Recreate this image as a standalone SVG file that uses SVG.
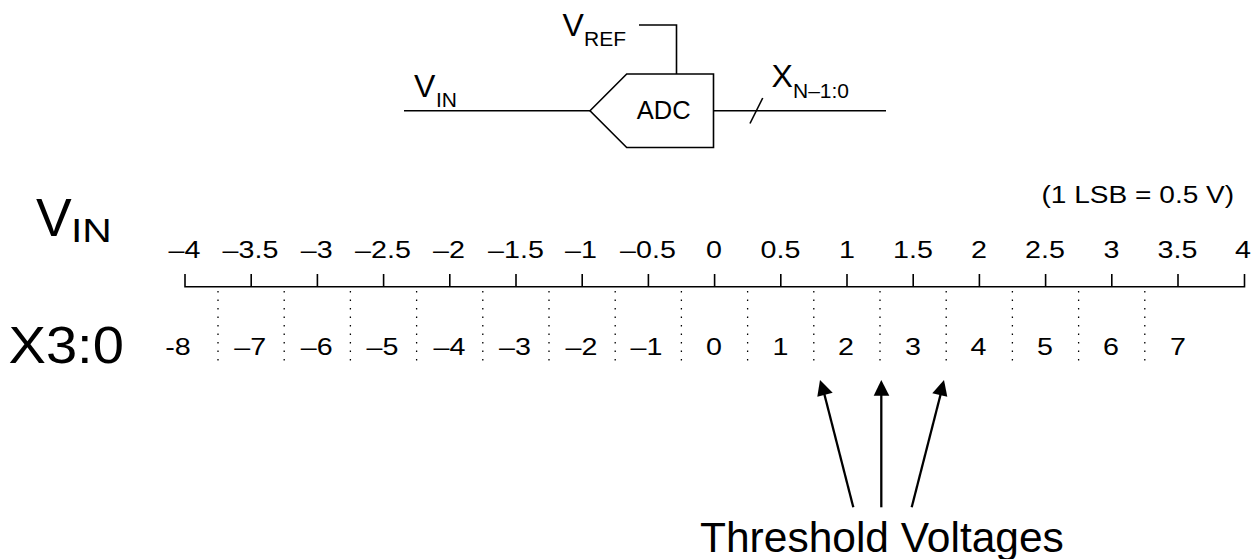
<svg xmlns="http://www.w3.org/2000/svg" width="1260" height="559" viewBox="0 0 1260 559">
<style>
text{font-family:"Liberation Sans",Arial,sans-serif;fill:#000}
.l{fill:none;stroke:#000;stroke-width:1.6}
.d{fill:none;stroke:#000;stroke-width:1.3;stroke-dasharray:1.5 7}
.a{fill:none;stroke:#000;stroke-width:2.3}
.h{fill:#000}
.t{font-size:23.5px;text-anchor:middle}
.s{font-size:32px}
.u{font-size:21px}
</style>
<rect width="1260" height="559" fill="#fff"/>
<g id="adc"><path class="l" d="M590 110.7L626.7 74H713.5V147.5H626.7Z"/><text x="663.7" y="119.3" font-size="25.5" text-anchor="middle">ADC</text></g>
<g id="connectors">
<path class="l" d="M404 110.7H590"/><path class="l" d="M713.5 110.7H886"/><path class="l" d="M750 123.5L762.7 98"/><path class="l" d="M639 25H676.5V74"/>
<path class="l" d="M185 274V286.7H1244.5V274"/>
<path class="l" d="M251.2 274V287M317.4 274V287M383.6 274V287M449.8 274V287M516 274V287M582.2 274V287M648.4 274V287M714.6 274V287M780.8 274V287M847 274V287M913.2 274V287M979.4 274V287M1045.6 274V287M1111.8 274V287M1178 274V287"/>
<path class="d" d="M218 291V361M284.2 291V361M350.4 291V361M416.6 291V361M482.8 291V361M549 291V361M615.2 291V361M681.4 291V361M747.6 291V361M813.8 291V361M880 291V361M946.2 291V361M1012.4 291V361M1078.6 291V361M1144.8 291V361"/>
<path class="a" d="M853.3 507.3L824.3 394"/><path class="h" d="M820 380L832.7 392.7L817.3 396.7Z"/>
<path class="a" d="M881.3 507.3V394"/><path class="h" d="M881.3 380L889.3 395.7H873.7Z"/>
<path class="a" d="M911.7 507.3L940.7 394"/><path class="h" d="M944 380L947.3 396.7L932.3 393.3Z"/>
</g>
<g id="labels">
<text class="s" x="562.5" y="35.5">V</text><text class="u" x="584" y="46">REF</text>
<text class="s" x="414" y="96.7">V</text><text class="u" x="436" y="106.7">IN</text>
<text class="s" x="771.5" y="86.7">X</text><text class="u" x="793" y="97.7">N–1:0</text>
<text x="36" y="236" font-size="53.5">V</text><text transform="translate(71 241.7) scale(1.2 1)" font-size="34">IN</text>
<text transform="translate(8.5 362.7) scale(1.1 1)" font-size="51">X3:0</text>
<text transform="translate(1041.5 203.3) scale(1.17 1)" font-size="24">(1 LSB = 0.5 V)</text>
<text x="700" y="551.7" font-size="42.5">Threshold Voltages</text>
</g>
<g id="top-scale">
<text class="t" transform="translate(184.5 257.7) scale(1.22 1)">–4</text>
<text class="t" transform="translate(250.5 257.7) scale(1.22 1)">–3.5</text>
<text class="t" transform="translate(316.7 257.7) scale(1.22 1)">–3</text>
<text class="t" transform="translate(383 257.7) scale(1.22 1)">–2.5</text>
<text class="t" transform="translate(449 257.7) scale(1.22 1)">–2</text>
<text class="t" transform="translate(516 257.7) scale(1.22 1)">–1.5</text>
<text class="t" transform="translate(581 257.7) scale(1.22 1)">–1</text>
<text class="t" transform="translate(648 257.7) scale(1.22 1)">–0.5</text>
<text class="t" transform="translate(714 257.7) scale(1.22 1)">0</text>
<text class="t" transform="translate(780.5 257.7) scale(1.22 1)">0.5</text>
<text class="t" transform="translate(847 257.7) scale(1.22 1)">1</text>
<text class="t" transform="translate(913 257.7) scale(1.22 1)">1.5</text>
<text class="t" transform="translate(979 257.7) scale(1.22 1)">2</text>
<text class="t" transform="translate(1045 257.7) scale(1.22 1)">2.5</text>
<text class="t" transform="translate(1111.5 257.7) scale(1.22 1)">3</text>
<text class="t" transform="translate(1177.5 257.7) scale(1.22 1)">3.5</text>
<text class="t" transform="translate(1243 257.7) scale(1.22 1)">4</text>
</g>
<g id="code-scale">
<text class="t" transform="translate(178 355) scale(1.22 1)">-8</text>
<text class="t" transform="translate(250.3 355) scale(1.22 1)">–7</text>
<text class="t" transform="translate(316.7 355) scale(1.22 1)">–6</text>
<text class="t" transform="translate(382.5 355) scale(1.22 1)">–5</text>
<text class="t" transform="translate(449.5 355) scale(1.22 1)">–4</text>
<text class="t" transform="translate(515 355) scale(1.22 1)">–3</text>
<text class="t" transform="translate(581.5 355) scale(1.22 1)">–2</text>
<text class="t" transform="translate(646.5 355) scale(1.22 1)">–1</text>
<text class="t" transform="translate(714 355) scale(1.22 1)">0</text>
<text class="t" transform="translate(780.5 355) scale(1.22 1)">1</text>
<text class="t" transform="translate(846 355) scale(1.22 1)">2</text>
<text class="t" transform="translate(913 355) scale(1.22 1)">3</text>
<text class="t" transform="translate(978.5 355) scale(1.22 1)">4</text>
<text class="t" transform="translate(1045 355) scale(1.22 1)">5</text>
<text class="t" transform="translate(1111 355) scale(1.22 1)">6</text>
<text class="t" transform="translate(1178 355) scale(1.22 1)">7</text>
</g>
</svg>
